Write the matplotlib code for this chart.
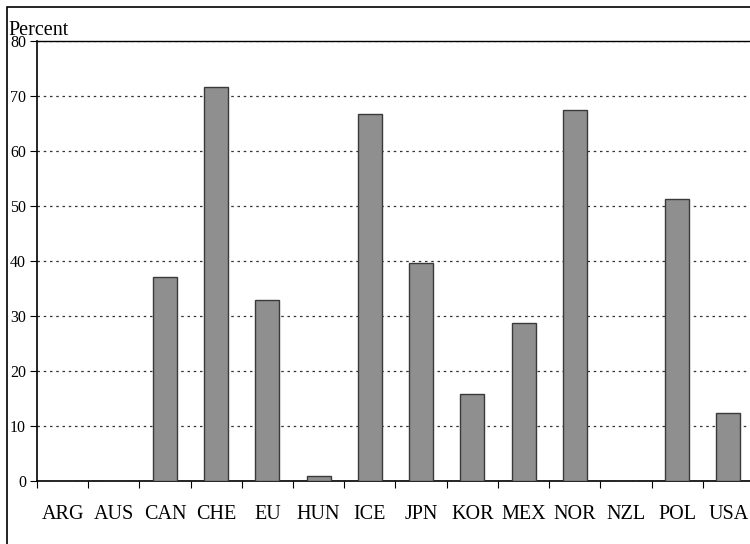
import matplotlib.pyplot as plt
from matplotlib.patches import Rectangle

countries = ["ARG", "AUS", "CAN", "CHE", "EU", "HUN", "ICE", "JPN",
             "KOR", "MEX", "NOR", "NZL", "POL", "USA"]
percent = [0, 0, 37.1, 71.6, 33.0, 0.9, 66.7, 39.7,
           15.9, 28.8, 67.4, 0, 51.2, 12.4]

plt.rcParams['font.family'] = ['Liberation Serif', 'DejaVu Serif']

fig = plt.figure(figsize=(7.5, 5.44), dpi=100)

# outer frame (right and bottom edges fall outside the picture)
fig.patches.append(Rectangle((7 / 750, -0.05), 1.1, 1 - 7 / 544 + 0.05,
                             transform=fig.transFigure, fill=False,
                             edgecolor='black', linewidth=1.2))

# axes runs past the right edge of the figure, like the original crop
ax = fig.add_axes([37 / 750, 63 / 544, 717 / 750, 440 / 544])

x = list(range(len(countries)))
ax.bar(x, percent, width=0.47, color='#8f8f8f', edgecolor='#3a3a3a',
       linewidth=1, zorder=3)

ax.set_xlim(-0.5, len(countries) - 0.5)
ax.set_ylim(0, 80)
ax.set_yticks(range(0, 81, 10))
ax.yaxis.grid(True, linestyle=(0, (2, 3)), color='#333333', linewidth=0.9)

# ticks on category boundaries, labels centred
ax.set_xticks([i - 0.5 for i in range(len(countries) + 1)])
ax.set_xticklabels([])
ax.set_xticks(x, minor=True)
ax.set_xticklabels(countries, minor=True, fontsize=14.5)
ax.tick_params(axis='x', which='minor', length=0, pad=17)
ax.tick_params(axis='x', which='major', length=5, direction='out')
ax.tick_params(axis='y', length=5, direction='out', labelsize=11.5, pad=3)

ax.spines['right'].set_visible(False)
ax.spines['top'].set_linewidth(1)
ax.spines['left'].set_linewidth(1.2)
ax.spines['bottom'].set_linewidth(1.2)

fig.text(8 / 750, 1 - 35 / 544, "Percent", fontsize=14.5, ha='left', va='baseline')

fig.savefig("out.png", dpi=100)
